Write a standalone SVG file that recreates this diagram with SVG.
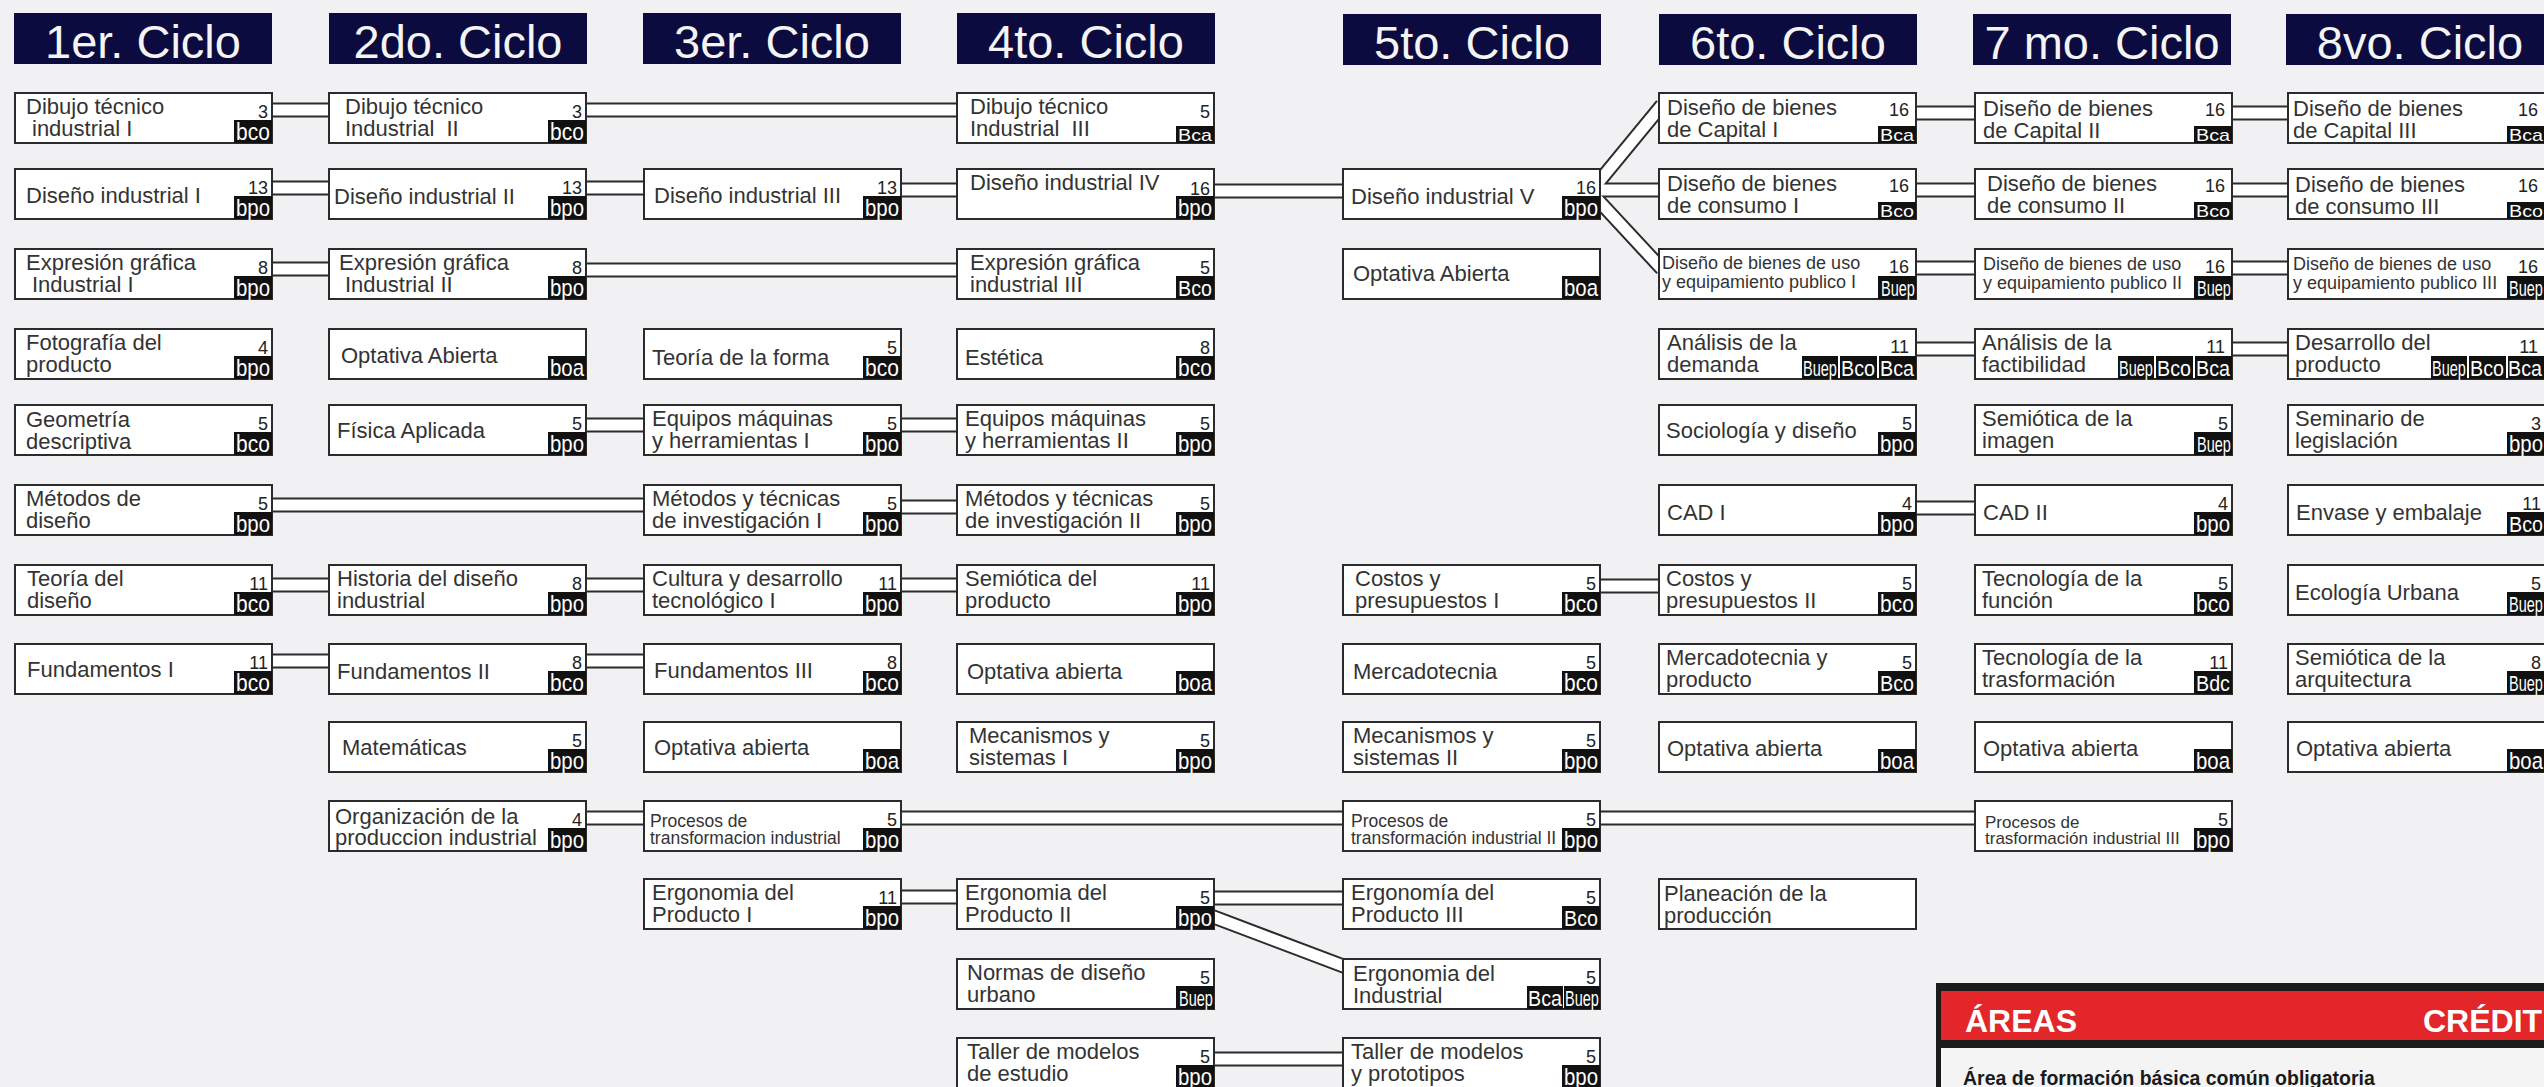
<svg xmlns="http://www.w3.org/2000/svg" width="2544" height="1087" viewBox="0 0 2544 1087">
<style>
.hd rect{fill:#0b0b40}
.hd text{fill:#f4f4f4;font:47px "Liberation Sans",Arial,sans-serif;text-anchor:middle}
.box{fill:#fff;stroke:#2b2b2b;stroke-width:2}
.t{font:22px "Liberation Sans",Arial,sans-serif;fill:#333}
.s{font-size:18px}
.p{font-size:17.5px}
.q{font-size:17px}
.cr{font:18px "Liberation Sans",Arial,sans-serif;fill:#222;text-anchor:end}
.tag{fill:#111}
.tg{font-family:"Liberation Sans",Arial,sans-serif;fill:#fff}
.f1{font-size:20.4px}
.f2{font-size:21px}
.f3{font-size:19.7px}
.f4{font-size:14.5px}
.outer{fill:none;stroke:#2b2b2b;stroke-width:15}
.inner{fill:none;stroke:#fff;stroke-width:11}
.lg{font-family:"Liberation Sans",Arial,sans-serif;font-weight:bold}
</style>
<defs>
<path id="k1" d="M269 110H332M583 110H960"/>
<path id="k2" d="M269 188H332M583 188H647M898 190H960M1211 191H1346"/>
<path id="k3" d="M269 269H332M583 270H960"/>
<path id="k4" d="M1597 184L1662 105"/>
<path id="k5" d="M1597 190H1662"/>
<path id="k6" d="M1597 199L1662 269"/>
<path id="k7" d="M1913 113H1978M2229 113H2291"/>
<path id="k8" d="M1913 190H1978M2229 190H2291"/>
<path id="k9" d="M1913 268H1978M2229 268H2291"/>
<path id="k10" d="M1913 349H1978M2229 349H2291"/>
<path id="k11" d="M583 425H647M898 425H960"/>
<path id="k12" d="M269 505H647M898 507H960"/>
<path id="k13" d="M269 585H332M583 585H647M898 585H960"/>
<path id="k14" d="M1913 508H1978"/>
<path id="k15" d="M1597 586H1662"/>
<path id="k16" d="M269 661H332M583 661H647"/>
<path id="k17" d="M583 818H647M898 818H1346M1597 818H1978"/>
<path id="k18" d="M898 897H960M1211 898H1346"/>
<path id="k19" d="M1211 916L1346 967"/>
<path id="k20" d="M1211 1059H1346"/>
</defs>
<rect width="2544" height="1087" fill="#f1f1f3"/>

<g id="headers" class="hd">
<g id="h1"><rect x="14" y="13" width="258" height="51"/><text x="143" y="58">1er. Ciclo</text></g>
<g id="h2"><rect x="329" y="13" width="258" height="51"/><text x="458" y="58">2do. Ciclo</text></g>
<g id="h3"><rect x="643" y="13" width="258" height="51"/><text x="772" y="58">3er. Ciclo</text></g>
<g id="h4"><rect x="957" y="13" width="258" height="51"/><text x="1086" y="58">4to. Ciclo</text></g>
<g id="h5"><rect x="1343" y="14" width="258" height="51"/><text x="1472" y="59">5to. Ciclo</text></g>
<g id="h6"><rect x="1659" y="14" width="258" height="51"/><text x="1788" y="59">6to. Ciclo</text></g>
<g id="h7"><rect x="1973" y="14" width="258" height="51"/><text x="2102" y="59">7 mo. Ciclo</text></g>
<g id="h8"><rect x="2286" y="14" width="260" height="51"/><text x="2420" y="59">8vo. Ciclo</text></g>
</g>

<g id="connectors">
<g class="outer"><use href="#k1"/><use href="#k2"/><use href="#k3"/><use href="#k4"/><use href="#k5"/><use href="#k6"/><use href="#k7"/><use href="#k8"/><use href="#k9"/><use href="#k10"/><use href="#k11"/><use href="#k12"/><use href="#k13"/><use href="#k14"/><use href="#k15"/><use href="#k16"/><use href="#k17"/><use href="#k18"/><use href="#k19"/><use href="#k20"/></g>
<g class="inner"><use href="#k1"/><use href="#k2"/><use href="#k3"/><use href="#k4"/><use href="#k5"/><use href="#k6"/><use href="#k7"/><use href="#k8"/><use href="#k9"/><use href="#k10"/><use href="#k11"/><use href="#k12"/><use href="#k13"/><use href="#k14"/><use href="#k15"/><use href="#k16"/><use href="#k17"/><use href="#k18"/><use href="#k19"/><use href="#k20"/></g>
</g>

<!-- Column 1 -->
<g id="n1-1" transform="translate(15,93)"><rect class="box" width="257" height="50"/><text class="t" x="11" y="21">Dibujo técnico</text><text class="t" x="17" y="43">industrial I</text><text class="cr" x="253" y="25">3</text><rect class="tag" x="219" y="27" width="38" height="23"/><text class="tg f2" transform="translate(221,47) scale(1,1.15)">bco</text></g>
<g id="n1-2" transform="translate(15,169)"><rect class="box" width="257" height="50"/><text class="t" x="11" y="34">Diseño industrial I</text><text class="cr" x="253" y="25">13</text><rect class="tag" x="219" y="27" width="38" height="23"/><text class="tg f1" transform="translate(221,47) scale(1,1.15)">bpo</text></g>
<g id="n1-3" transform="translate(15,249)"><rect class="box" width="257" height="50"/><text class="t" x="11" y="21">Expresión gráfica</text><text class="t" x="17" y="43">Industrial I</text><text class="cr" x="253" y="25">8</text><rect class="tag" x="219" y="27" width="38" height="23"/><text class="tg f1" transform="translate(221,47) scale(1,1.15)">bpo</text></g>
<g id="n1-4" transform="translate(15,329)"><rect class="box" width="257" height="50"/><text class="t" x="11" y="21">Fotografía del</text><text class="t" x="11" y="43">producto</text><text class="cr" x="253" y="25">4</text><rect class="tag" x="219" y="27" width="38" height="23"/><text class="tg f1" transform="translate(221,47) scale(1,1.15)">bpo</text></g>
<g id="n1-5" transform="translate(15,405)"><rect class="box" width="257" height="50"/><text class="t" x="11" y="22">Geometría</text><text class="t" x="11" y="44">descriptiva</text><text class="cr" x="253" y="25">5</text><rect class="tag" x="219" y="27" width="38" height="23"/><text class="tg f2" transform="translate(221,47) scale(1,1.15)">bco</text></g>
<g id="n1-6" transform="translate(15,485)"><rect class="box" width="257" height="50"/><text class="t" x="11" y="21">Métodos de</text><text class="t" x="11" y="43">diseño</text><text class="cr" x="253" y="25">5</text><rect class="tag" x="219" y="27" width="38" height="23"/><text class="tg f1" transform="translate(221,47) scale(1,1.15)">bpo</text></g>
<g id="n1-7" transform="translate(15,565)"><rect class="box" width="257" height="50"/><text class="t" x="12" y="21">Teoría del</text><text class="t" x="12" y="43">diseño</text><text class="cr" x="253" y="25">11</text><rect class="tag" x="219" y="27" width="38" height="23"/><text class="tg f2" transform="translate(221,47) scale(1,1.15)">bco</text></g>
<g id="n1-8" transform="translate(15,644)"><rect class="box" width="257" height="50"/><text class="t" x="12" y="33">Fundamentos I</text><text class="cr" x="253" y="25">11</text><rect class="tag" x="219" y="27" width="38" height="23"/><text class="tg f2" transform="translate(221,47) scale(1,1.15)">bco</text></g>

<!-- Column 2 -->
<g id="n2-1" transform="translate(329,93)"><rect class="box" width="257" height="50"/><text class="t" x="16" y="21">Dibujo técnico</text><text class="t" x="16" y="43">Industrial&#160; II</text><text class="cr" x="253" y="25">3</text><rect class="tag" x="219" y="27" width="38" height="23"/><text class="tg f2" transform="translate(221,47) scale(1,1.15)">bco</text></g>
<g id="n2-2" transform="translate(329,169)"><rect class="box" width="257" height="50"/><text class="t" x="5" y="35">Diseño industrial II</text><text class="cr" x="253" y="25">13</text><rect class="tag" x="219" y="27" width="38" height="23"/><text class="tg f1" transform="translate(221,47) scale(1,1.15)">bpo</text></g>
<g id="n2-3" transform="translate(329,249)"><rect class="box" width="257" height="50"/><text class="t" x="10" y="21">Expresión gráfica</text><text class="t" x="16" y="43">Industrial II</text><text class="cr" x="253" y="25">8</text><rect class="tag" x="219" y="27" width="38" height="23"/><text class="tg f1" transform="translate(221,47) scale(1,1.15)">bpo</text></g>
<g id="n2-4" transform="translate(329,329)"><rect class="box" width="257" height="50"/><text class="t" x="12" y="34">Optativa Abierta</text><rect class="tag" x="219" y="27" width="38" height="23"/><text class="tg f1" transform="translate(221,47) scale(1,1.15)">boa</text></g>
<g id="n2-5" transform="translate(329,405)"><rect class="box" width="257" height="50"/><text class="t" x="8" y="33">Física Aplicada</text><text class="cr" x="253" y="25">5</text><rect class="tag" x="219" y="27" width="38" height="23"/><text class="tg f1" transform="translate(221,47) scale(1,1.15)">bpo</text></g>
<g id="n2-7" transform="translate(329,565)"><rect class="box" width="257" height="50"/><text class="t" x="8" y="21">Historia del diseño</text><text class="t" x="8" y="43">industrial</text><text class="cr" x="253" y="25">8</text><rect class="tag" x="219" y="27" width="38" height="23"/><text class="tg f1" transform="translate(221,47) scale(1,1.15)">bpo</text></g>
<g id="n2-8" transform="translate(329,644)"><rect class="box" width="257" height="50"/><text class="t" x="8" y="35">Fundamentos II</text><text class="cr" x="253" y="25">8</text><rect class="tag" x="219" y="27" width="38" height="23"/><text class="tg f2" transform="translate(221,47) scale(1,1.15)">bco</text></g>
<g id="n2-9" transform="translate(329,722)"><rect class="box" width="257" height="50"/><text class="t" x="13" y="33">Matemáticas</text><text class="cr" x="253" y="25">5</text><rect class="tag" x="219" y="27" width="38" height="23"/><text class="tg f1" transform="translate(221,47) scale(1,1.15)">bpo</text></g>
<g id="n2-10" transform="translate(329,801)"><rect class="box" width="257" height="50"/><text class="t" x="6" y="23">Organización de la</text><text class="t" x="6" y="44">produccion industrial</text><text class="cr" x="253" y="25">4</text><rect class="tag" x="219" y="27" width="38" height="23"/><text class="tg f1" transform="translate(221,47) scale(1,1.15)">bpo</text></g>

<!-- Column 3 -->
<g id="n3-2" transform="translate(644,169)"><rect class="box" width="257" height="50"/><text class="t" x="10" y="34">Diseño industrial III</text><text class="cr" x="253" y="25">13</text><rect class="tag" x="219" y="27" width="38" height="23"/><text class="tg f1" transform="translate(221,47) scale(1,1.15)">bpo</text></g>
<g id="n3-4" transform="translate(644,329)"><rect class="box" width="257" height="50"/><text class="t" x="8" y="36">Teoría de la forma</text><text class="cr" x="253" y="25">5</text><rect class="tag" x="219" y="27" width="38" height="23"/><text class="tg f2" transform="translate(221,47) scale(1,1.15)">bco</text></g>
<g id="n3-5" transform="translate(644,405)"><rect class="box" width="257" height="50"/><text class="t" x="8" y="21">Equipos máquinas</text><text class="t" x="8" y="43">y herramientas I</text><text class="cr" x="253" y="25">5</text><rect class="tag" x="219" y="27" width="38" height="23"/><text class="tg f1" transform="translate(221,47) scale(1,1.15)">bpo</text></g>
<g id="n3-6" transform="translate(644,485)"><rect class="box" width="257" height="50"/><text class="t" x="8" y="21">Métodos y técnicas</text><text class="t" x="8" y="43">de investigación I</text><text class="cr" x="253" y="25">5</text><rect class="tag" x="219" y="27" width="38" height="23"/><text class="tg f1" transform="translate(221,47) scale(1,1.15)">bpo</text></g>
<g id="n3-7" transform="translate(644,565)"><rect class="box" width="257" height="50"/><text class="t" x="8" y="21">Cultura y desarrollo</text><text class="t" x="8" y="43">tecnológico I</text><text class="cr" x="253" y="25">11</text><rect class="tag" x="219" y="27" width="38" height="23"/><text class="tg f1" transform="translate(221,47) scale(1,1.15)">bpo</text></g>
<g id="n3-8" transform="translate(644,644)"><rect class="box" width="257" height="50"/><text class="t" x="10" y="34">Fundamentos III</text><text class="cr" x="253" y="25">8</text><rect class="tag" x="219" y="27" width="38" height="23"/><text class="tg f2" transform="translate(221,47) scale(1,1.15)">bco</text></g>
<g id="n3-9" transform="translate(644,722)"><rect class="box" width="257" height="50"/><text class="t" x="10" y="33">Optativa abierta</text><rect class="tag" x="219" y="27" width="38" height="23"/><text class="tg f1" transform="translate(221,47) scale(1,1.15)">boa</text></g>
<g id="n3-10" transform="translate(644,801)"><rect class="box" width="257" height="50"/><text class="t p" x="6" y="26">Procesos de</text><text class="t p" x="6" y="43">transformacion industrial</text><text class="cr" x="253" y="25">5</text><rect class="tag" x="219" y="27" width="38" height="23"/><text class="tg f1" transform="translate(221,47) scale(1,1.15)">bpo</text></g>
<g id="n3-11" transform="translate(644,879)"><rect class="box" width="257" height="50"/><text class="t" x="8" y="21">Ergonomia del</text><text class="t" x="8" y="43">Producto I</text><text class="cr" x="253" y="25">11</text><rect class="tag" x="219" y="27" width="38" height="23"/><text class="tg f1" transform="translate(221,47) scale(1,1.15)">bpo</text></g>

<!-- Column 4 -->
<g id="n4-1" transform="translate(957,93)"><rect class="box" width="257" height="50"/><text class="t" x="13" y="21">Dibujo técnico</text><text class="t" x="13" y="43">Industrial&#160; III</text><text class="cr" x="253" y="25">5</text><rect class="tag" x="219" y="33" width="38" height="17"/><text class="tg f3" transform="translate(221,48) scale(1,0.85)">Bca</text></g>
<g id="n4-2" transform="translate(957,169)"><rect class="box" width="257" height="50"/><text class="t" x="13" y="21">Diseño industrial IV</text><text class="cr" x="253" y="26">16</text><rect class="tag" x="219" y="27" width="38" height="23"/><text class="tg f1" transform="translate(221,47) scale(1,1.15)">bpo</text></g>
<g id="n4-3" transform="translate(957,249)"><rect class="box" width="257" height="50"/><text class="t" x="13" y="21">Expresión gráfica</text><text class="t" x="13" y="43">industrial III</text><text class="cr" x="253" y="25">5</text><rect class="tag" x="219" y="27" width="38" height="23"/><text class="tg f3" transform="translate(221,47) scale(1,1.15)">Bco</text></g>
<g id="n4-4" transform="translate(957,329)"><rect class="box" width="257" height="50"/><text class="t" x="8" y="36">Estética</text><text class="cr" x="253" y="25">8</text><rect class="tag" x="219" y="27" width="38" height="23"/><text class="tg f2" transform="translate(221,47) scale(1,1.15)">bco</text></g>
<g id="n4-5" transform="translate(957,405)"><rect class="box" width="257" height="50"/><text class="t" x="8" y="21">Equipos máquinas</text><text class="t" x="8" y="43">y herramientas II</text><text class="cr" x="253" y="25">5</text><rect class="tag" x="219" y="27" width="38" height="23"/><text class="tg f1" transform="translate(221,47) scale(1,1.15)">bpo</text></g>
<g id="n4-6" transform="translate(957,485)"><rect class="box" width="257" height="50"/><text class="t" x="8" y="21">Métodos y técnicas</text><text class="t" x="8" y="43">de investigación II</text><text class="cr" x="253" y="25">5</text><rect class="tag" x="219" y="27" width="38" height="23"/><text class="tg f1" transform="translate(221,47) scale(1,1.15)">bpo</text></g>
<g id="n4-7" transform="translate(957,565)"><rect class="box" width="257" height="50"/><text class="t" x="8" y="21">Semiótica del</text><text class="t" x="8" y="43">producto</text><text class="cr" x="253" y="25">11</text><rect class="tag" x="219" y="27" width="38" height="23"/><text class="tg f1" transform="translate(221,47) scale(1,1.15)">bpo</text></g>
<g id="n4-8" transform="translate(957,644)"><rect class="box" width="257" height="50"/><text class="t" x="10" y="35">Optativa abierta</text><rect class="tag" x="219" y="27" width="38" height="23"/><text class="tg f1" transform="translate(221,47) scale(1,1.15)">boa</text></g>
<g id="n4-9" transform="translate(957,722)"><rect class="box" width="257" height="50"/><text class="t" x="12" y="21">Mecanismos y</text><text class="t" x="12" y="43">sistemas I</text><text class="cr" x="253" y="25">5</text><rect class="tag" x="219" y="27" width="38" height="23"/><text class="tg f1" transform="translate(221,47) scale(1,1.15)">bpo</text></g>
<g id="n4-11" transform="translate(957,879)"><rect class="box" width="257" height="50"/><text class="t" x="8" y="21">Ergonomia del</text><text class="t" x="8" y="43">Producto II</text><text class="cr" x="253" y="25">5</text><rect class="tag" x="219" y="27" width="38" height="23"/><text class="tg f1" transform="translate(221,47) scale(1,1.15)">bpo</text></g>
<g id="n4-12" transform="translate(957,959)"><rect class="box" width="257" height="50"/><text class="t" x="10" y="21">Normas de diseño</text><text class="t" x="10" y="43">urbano</text><text class="cr" x="253" y="25">5</text><rect class="tag" x="219" y="27" width="38" height="23"/><text class="tg f4" transform="translate(222,47) scale(1,1.55)">Buep</text></g>
<g id="n4-13" transform="translate(957,1038)"><rect class="box" width="257" height="50"/><text class="t" x="10" y="21">Taller de modelos</text><text class="t" x="10" y="43">de estudio</text><text class="cr" x="253" y="25">5</text><rect class="tag" x="219" y="27" width="38" height="23"/><text class="tg f1" transform="translate(221,47) scale(1,1.15)">bpo</text></g>

<!-- Column 5 -->
<g id="n5-2" transform="translate(1343,169)"><rect class="box" width="257" height="50"/><text class="t" x="8" y="35">Diseño industrial V</text><text class="cr" x="253" y="25">16</text><rect class="tag" x="219" y="27" width="38" height="23"/><text class="tg f1" transform="translate(221,47) scale(1,1.15)">bpo</text></g>
<g id="n5-3" transform="translate(1343,249)"><rect class="box" width="257" height="50"/><text class="t" x="10" y="32">Optativa Abierta</text><rect class="tag" x="219" y="27" width="38" height="23"/><text class="tg f1" transform="translate(221,47) scale(1,1.15)">boa</text></g>
<g id="n5-7" transform="translate(1343,565)"><rect class="box" width="257" height="50"/><text class="t" x="12" y="21">Costos y</text><text class="t" x="12" y="43">presupuestos I</text><text class="cr" x="253" y="25">5</text><rect class="tag" x="219" y="27" width="38" height="23"/><text class="tg f2" transform="translate(221,47) scale(1,1.15)">bco</text></g>
<g id="n5-8" transform="translate(1343,644)"><rect class="box" width="257" height="50"/><text class="t" x="10" y="35">Mercadotecnia</text><text class="cr" x="253" y="25">5</text><rect class="tag" x="219" y="27" width="38" height="23"/><text class="tg f2" transform="translate(221,47) scale(1,1.15)">bco</text></g>
<g id="n5-9" transform="translate(1343,722)"><rect class="box" width="257" height="50"/><text class="t" x="10" y="21">Mecanismos y</text><text class="t" x="10" y="43">sistemas II</text><text class="cr" x="253" y="25">5</text><rect class="tag" x="219" y="27" width="38" height="23"/><text class="tg f1" transform="translate(221,47) scale(1,1.15)">bpo</text></g>
<g id="n5-10" transform="translate(1343,801)"><rect class="box" width="257" height="50"/><text class="t p" x="8" y="26">Procesos de</text><text class="t p" x="8" y="43">transformación industrial II</text><text class="cr" x="253" y="25">5</text><rect class="tag" x="219" y="27" width="38" height="23"/><text class="tg f1" transform="translate(221,47) scale(1,1.15)">bpo</text></g>
<g id="n5-11" transform="translate(1343,879)"><rect class="box" width="257" height="50"/><text class="t" x="8" y="21">Ergonomía del</text><text class="t" x="8" y="43">Producto III</text><text class="cr" x="253" y="25">5</text><rect class="tag" x="219" y="27" width="38" height="23"/><text class="tg f3" transform="translate(221,47) scale(1,1.15)">Bco</text></g>
<g id="n5-12" transform="translate(1343,959)"><rect class="box" width="257" height="50"/><text class="t" x="10" y="22">Ergonomia del</text><text class="t" x="10" y="44">Industrial</text><text class="cr" x="253" y="25">5</text><rect class="tag" x="184" y="27" width="36" height="23"/><text class="tg f3" transform="translate(185,47) scale(1,1.15)">Bca</text><rect class="tag" x="221" y="27" width="36" height="23"/><text class="tg f4" transform="translate(222,47) scale(1,1.55)">Buep</text></g>
<g id="n5-13" transform="translate(1343,1038)"><rect class="box" width="257" height="50"/><text class="t" x="8" y="21">Taller de modelos</text><text class="t" x="8" y="43">y prototipos</text><text class="cr" x="253" y="25">5</text><rect class="tag" x="219" y="27" width="38" height="23"/><text class="tg f1" transform="translate(221,47) scale(1,1.15)">bpo</text></g>

<!-- Column 6 -->
<g id="n6-1" transform="translate(1659,93)"><rect class="box" width="257" height="50"/><text class="t" x="8" y="22">Diseño de bienes</text><text class="t" x="8" y="44">de Capital I</text><text class="cr" x="250" y="23">16</text><rect class="tag" x="219" y="33" width="38" height="17"/><text class="tg f3" transform="translate(221,48) scale(1,0.85)">Bca</text></g>
<g id="n6-2" transform="translate(1659,169)"><rect class="box" width="257" height="50"/><text class="t" x="8" y="22">Diseño de bienes</text><text class="t" x="8" y="44">de consumo I</text><text class="cr" x="250" y="23">16</text><rect class="tag" x="219" y="33" width="38" height="17"/><text class="tg f3" transform="translate(221,48) scale(1,0.85)">Bco</text></g>
<g id="n6-3" transform="translate(1659,249)"><rect class="box" width="257" height="50"/><text class="t s" x="3" y="20">Diseño de bienes de uso</text><text class="t s" x="3" y="39">y equipamiento publico I</text><text class="cr" x="250" y="24">16</text><rect class="tag" x="219" y="27" width="38" height="23"/><text class="tg f4" transform="translate(222,47) scale(1,1.55)">Buep</text></g>
<g id="n6-4" transform="translate(1659,329)"><rect class="box" width="257" height="50"/><text class="t" x="8" y="21">Análisis de la</text><text class="t" x="8" y="43">demanda</text><text class="cr" x="250" y="24">11</text><rect class="tag" x="143" y="27" width="36" height="23"/><text class="tg f4" transform="translate(144,47) scale(1,1.55)">Buep</text><rect class="tag" x="181" y="27" width="37" height="23"/><text class="tg f3" transform="translate(182,47) scale(1,1.15)">Bco</text><rect class="tag" x="220" y="27" width="37" height="23"/><text class="tg f3" transform="translate(221,47) scale(1,1.15)">Bca</text></g>
<g id="n6-5" transform="translate(1659,405)"><rect class="box" width="257" height="50"/><text class="t" x="7" y="33">Sociología y diseño</text><text class="cr" x="253" y="25">5</text><rect class="tag" x="219" y="27" width="38" height="23"/><text class="tg f1" transform="translate(221,47) scale(1,1.15)">bpo</text></g>
<g id="n6-6" transform="translate(1659,485)"><rect class="box" width="257" height="50"/><text class="t" x="8" y="35">CAD I</text><text class="cr" x="253" y="25">4</text><rect class="tag" x="219" y="27" width="38" height="23"/><text class="tg f1" transform="translate(221,47) scale(1,1.15)">bpo</text></g>
<g id="n6-7" transform="translate(1659,565)"><rect class="box" width="257" height="50"/><text class="t" x="7" y="21">Costos y</text><text class="t" x="7" y="43">presupuestos II</text><text class="cr" x="253" y="25">5</text><rect class="tag" x="219" y="27" width="38" height="23"/><text class="tg f2" transform="translate(221,47) scale(1,1.15)">bco</text></g>
<g id="n6-8" transform="translate(1659,644)"><rect class="box" width="257" height="50"/><text class="t" x="7" y="21">Mercadotecnia y</text><text class="t" x="7" y="43">producto</text><text class="cr" x="253" y="25">5</text><rect class="tag" x="219" y="27" width="38" height="23"/><text class="tg f3" transform="translate(221,47) scale(1,1.15)">Bco</text></g>
<g id="n6-9" transform="translate(1659,722)"><rect class="box" width="257" height="50"/><text class="t" x="8" y="34">Optativa abierta</text><rect class="tag" x="219" y="27" width="38" height="23"/><text class="tg f1" transform="translate(221,47) scale(1,1.15)">boa</text></g>
<g id="n6-11" transform="translate(1659,879)"><rect class="box" width="257" height="50"/><text class="t" x="5" y="22">Planeación de la</text><text class="t" x="5" y="44">producción</text></g>

<!-- Column 7 -->
<g id="n7-1" transform="translate(1975,93)"><rect class="box" width="257" height="50"/><text class="t" x="8" y="23">Diseño de bienes</text><text class="t" x="8" y="45">de Capital II</text><text class="cr" x="250" y="23">16</text><rect class="tag" x="219" y="33" width="38" height="17"/><text class="tg f3" transform="translate(221,48) scale(1,0.85)">Bca</text></g>
<g id="n7-2" transform="translate(1975,169)"><rect class="box" width="257" height="50"/><text class="t" x="12" y="22">Diseño de bienes</text><text class="t" x="12" y="44">de consumo II</text><text class="cr" x="250" y="23">16</text><rect class="tag" x="219" y="33" width="38" height="17"/><text class="tg f3" transform="translate(221,48) scale(1,0.85)">Bco</text></g>
<g id="n7-3" transform="translate(1975,249)"><rect class="box" width="257" height="50"/><text class="t s" x="8" y="21">Diseño de bienes de uso</text><text class="t s" x="8" y="40">y equipamiento publico II</text><text class="cr" x="250" y="24">16</text><rect class="tag" x="219" y="27" width="38" height="23"/><text class="tg f4" transform="translate(222,47) scale(1,1.55)">Buep</text></g>
<g id="n7-4" transform="translate(1975,329)"><rect class="box" width="257" height="50"/><text class="t" x="7" y="21">Análisis de la</text><text class="t" x="7" y="43">factibilidad</text><text class="cr" x="250" y="24">11</text><rect class="tag" x="143" y="27" width="36" height="23"/><text class="tg f4" transform="translate(144,47) scale(1,1.55)">Buep</text><rect class="tag" x="181" y="27" width="37" height="23"/><text class="tg f3" transform="translate(182,47) scale(1,1.15)">Bco</text><rect class="tag" x="220" y="27" width="37" height="23"/><text class="tg f3" transform="translate(221,47) scale(1,1.15)">Bca</text></g>
<g id="n7-5" transform="translate(1975,405)"><rect class="box" width="257" height="50"/><text class="t" x="7" y="21">Semiótica de la</text><text class="t" x="7" y="43">imagen</text><text class="cr" x="253" y="25">5</text><rect class="tag" x="219" y="27" width="38" height="23"/><text class="tg f4" transform="translate(222,47) scale(1,1.55)">Buep</text></g>
<g id="n7-6" transform="translate(1975,485)"><rect class="box" width="257" height="50"/><text class="t" x="8" y="35">CAD II</text><text class="cr" x="253" y="25">4</text><rect class="tag" x="219" y="27" width="38" height="23"/><text class="tg f1" transform="translate(221,47) scale(1,1.15)">bpo</text></g>
<g id="n7-7" transform="translate(1975,565)"><rect class="box" width="257" height="50"/><text class="t" x="7" y="21">Tecnología de la</text><text class="t" x="7" y="43">función</text><text class="cr" x="253" y="25">5</text><rect class="tag" x="219" y="27" width="38" height="23"/><text class="tg f2" transform="translate(221,47) scale(1,1.15)">bco</text></g>
<g id="n7-8" transform="translate(1975,644)"><rect class="box" width="257" height="50"/><text class="t" x="7" y="21">Tecnología de la</text><text class="t" x="7" y="43">trasformación</text><text class="cr" x="253" y="25">11</text><rect class="tag" x="219" y="27" width="38" height="23"/><text class="tg f3" transform="translate(221,47) scale(1,1.15)">Bdc</text></g>
<g id="n7-9" transform="translate(1975,722)"><rect class="box" width="257" height="50"/><text class="t" x="8" y="34">Optativa abierta</text><rect class="tag" x="219" y="27" width="38" height="23"/><text class="tg f1" transform="translate(221,47) scale(1,1.15)">boa</text></g>
<g id="n7-10" transform="translate(1975,801)"><rect class="box" width="257" height="50"/><text class="t q" x="10" y="27">Procesos de</text><text class="t q" x="10" y="43">trasformación industrial III</text><text class="cr" x="253" y="25">5</text><rect class="tag" x="219" y="27" width="38" height="23"/><text class="tg f1" transform="translate(221,47) scale(1,1.15)">bpo</text></g>

<!-- Column 8 -->
<g id="n8-1" transform="translate(2288,93)"><rect class="box" width="257" height="50"/><text class="t" x="5" y="23">Diseño de bienes</text><text class="t" x="5" y="45">de Capital III</text><text class="cr" x="250" y="23">16</text><rect class="tag" x="219" y="33" width="38" height="17"/><text class="tg f3" transform="translate(221,48) scale(1,0.85)">Bca</text></g>
<g id="n8-2" transform="translate(2288,169)"><rect class="box" width="257" height="50"/><text class="t" x="7" y="23">Diseño de bienes</text><text class="t" x="7" y="45">de consumo III</text><text class="cr" x="250" y="23">16</text><rect class="tag" x="219" y="33" width="38" height="17"/><text class="tg f3" transform="translate(221,48) scale(1,0.85)">Bco</text></g>
<g id="n8-3" transform="translate(2288,249)"><rect class="box" width="257" height="50"/><text class="t s" x="5" y="21">Diseño de bienes de uso</text><text class="t s" x="5" y="40">y equipamiento publico III</text><text class="cr" x="250" y="24">16</text><rect class="tag" x="219" y="27" width="38" height="23"/><text class="tg f4" transform="translate(221,47) scale(1,1.55)">Buep</text></g>
<g id="n8-4" transform="translate(2288,329)"><rect class="box" width="257" height="50"/><text class="t" x="7" y="21">Desarrollo del</text><text class="t" x="7" y="43">producto</text><text class="cr" x="250" y="24">11</text><rect class="tag" x="143" y="27" width="36" height="23"/><text class="tg f4" transform="translate(144,47) scale(1,1.55)">Buep</text><rect class="tag" x="181" y="27" width="37" height="23"/><text class="tg f3" transform="translate(182,47) scale(1,1.15)">Bco</text><rect class="tag" x="220" y="27" width="37" height="23"/><text class="tg f3" transform="translate(220,47) scale(1,1.15)">Bca</text></g>
<g id="n8-5" transform="translate(2288,405)"><rect class="box" width="257" height="50"/><text class="t" x="7" y="21">Seminario de</text><text class="t" x="7" y="43">legislación</text><text class="cr" x="253" y="25">3</text><rect class="tag" x="219" y="27" width="38" height="23"/><text class="tg f1" transform="translate(221,47) scale(1,1.15)">bpo</text></g>
<g id="n8-6" transform="translate(2288,485)"><rect class="box" width="257" height="50"/><text class="t" x="8" y="35">Envase y embalaje</text><text class="cr" x="253" y="25">11</text><rect class="tag" x="219" y="27" width="38" height="23"/><text class="tg f3" transform="translate(221,47) scale(1,1.15)">Bco</text></g>
<g id="n8-7" transform="translate(2288,565)"><rect class="box" width="257" height="50"/><text class="t" x="7" y="35">Ecología Urbana</text><text class="cr" x="253" y="25">5</text><rect class="tag" x="219" y="27" width="38" height="23"/><text class="tg f4" transform="translate(221,47) scale(1,1.55)">Buep</text></g>
<g id="n8-8" transform="translate(2288,644)"><rect class="box" width="257" height="50"/><text class="t" x="7" y="21">Semiótica de la</text><text class="t" x="7" y="43">arquitectura</text><text class="cr" x="253" y="25">8</text><rect class="tag" x="219" y="27" width="38" height="23"/><text class="tg f4" transform="translate(221,47) scale(1,1.55)">Buep</text></g>
<g id="n8-9" transform="translate(2288,722)"><rect class="box" width="257" height="50"/><text class="t" x="8" y="34">Optativa abierta</text><rect class="tag" x="219" y="27" width="38" height="23"/><text class="tg f1" transform="translate(221,47) scale(1,1.15)">boa</text></g>

<!-- Legend -->
<g id="legend">
<rect x="1936" y="983" width="620" height="120" fill="#1b1b1b"/>
<rect x="1941" y="991" width="610" height="49" fill="#e2262a"/>
<rect x="1941" y="1048" width="610" height="60" fill="#f4f4f4"/>
<text class="lg" x="1965" y="1032" fill="#fff" font-size="32">ÁREAS</text>
<text class="lg" x="2423" y="1032" fill="#fff" font-size="32">CRÉDIT</text>
<text class="lg" x="1963" y="1085" fill="#1a1a1a" font-size="19.5">Área de formación básica común obligatoria</text>
</g>
</svg>
